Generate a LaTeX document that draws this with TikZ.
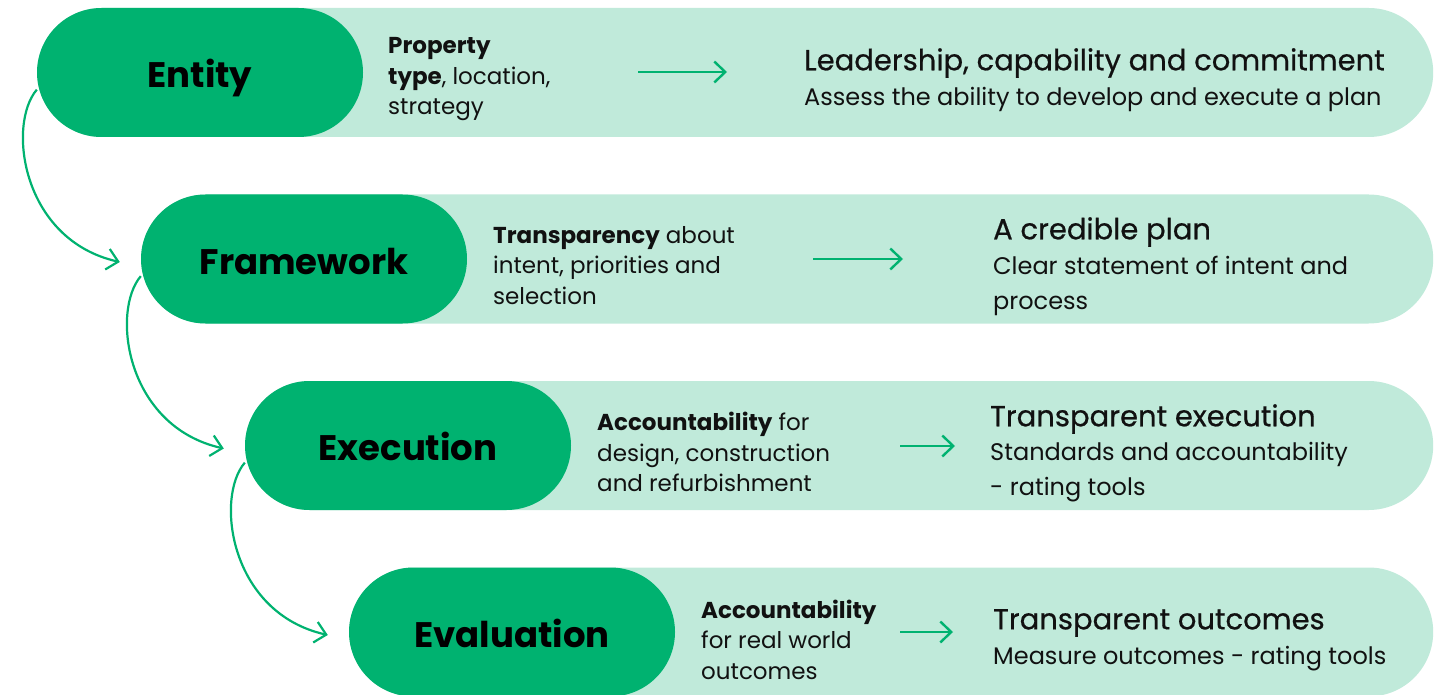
\documentclass[tikz,border=0pt]{standalone}
\usepackage{fontspec}
\setmainfont{Poppins}
\newfontfamily\medfont{Poppins}[FakeBold=0.6]
\usetikzlibrary{arrows.meta}
\definecolor{pillgreen}{RGB}{0,178,112}
\definecolor{bandgreen}{RGB}{192,234,218}
\definecolor{ink}{RGB}{17,17,17}
\tikzset{
  band/.style={fill=bandgreen, rounded corners=64.5pt, minimum height=129pt, inner sep=0pt, anchor=west},
  pill/.style={fill=pillgreen, rounded corners=64.5pt, minimum width=326pt, minimum height=129pt, inner sep=0pt, font=\fontsize{35.5}{40}\selectfont\bfseries, text=black, text depth=0pt, text height=30pt},
  midtext/.style={anchor=west, align=left, inner sep=0pt, text=ink, font=\fontsize{23}{30.5}\selectfont},
  headtext/.style={anchor=west, align=left, inner sep=0pt, text=ink, font=\fontsize{29}{32}\selectfont\medfont},
  subtext/.style={anchor=west, align=left, inner sep=0pt, text=ink, font=\fontsize{24}{35}\selectfont},
  flow/.style={draw=pillgreen, line width=2.4pt, -{Straight Barb[length=11pt,width=21pt,line width=2.4pt]}},
  conn/.style={draw=pillgreen, line width=2.2pt, -{Straight Barb[length=11pt,width=21pt,line width=2.2pt]}}
}
\begin{document}
\begin{tikzpicture}[x=1pt,y=-1pt]
\useasboundingbox (0,0) rectangle (1449,695);
% row 1
\node[band, minimum width=1396pt] (b1) at (37,72.5) {};
\node[pill] (p1) at (200,72.5) {Entity};
\node[midtext] (m1) at (388,79.5) {\textbf{Property}\\\textbf{type}, location,\\strategy};
\coordinate (a1s) at (638,72);
\coordinate (a1e) at (727,72);
\draw[flow] (a1s) -- (a1e);
\node[headtext] (h1) at (804,63) {Leadership, capability and commitment};
\node[subtext] (s1) at (804,99.5) {Assess the ability to develop and execute a plan};
% row 2
\node[band, minimum width=1292pt] (b2) at (141,259) {};
\node[pill] (p2) at (304,259) {Framework};
\node[midtext] (m2) at (493,265.5) {\textbf{Transparency} about\\intent, priorities and\\selection};
\coordinate (a2s) at (813,259);
\coordinate (a2e) at (903,259);
\draw[flow] (a2s) -- (a2e);
\node[headtext] (h2) at (993,232) {A credible plan};
\node[subtext] (s2) at (993,286) {Clear statement of intent and\\process};
% row 3
\node[band, minimum width=1188pt] (b3) at (245,445.5) {};
\node[pill] (p3) at (408,445.5) {Execution};
\node[midtext] (m3) at (597,452) {\textbf{Accountability} for\\design, construction\\and refurbishment};
\coordinate (a3s) at (900,446);
\coordinate (a3e) at (955,446);
\draw[flow] (a3s) -- (a3e);
\node[headtext] (h3) at (990,419) {Transparent execution};
\node[subtext] (s3) at (990,472.5) {Standards and accountability\\- rating tools};
% row 4
\node[band, minimum width=1084pt] (b4) at (349,632) {};
\node[pill] (p4) at (512,632) {Evaluation};
\node[midtext] (m4) at (701,639.5) {\textbf{Accountability}\\for real world\\outcomes};
\coordinate (a4s) at (900,632);
\coordinate (a4e) at (953,632);
\draw[flow] (a4s) -- (a4e);
\node[headtext] (h4) at (993,623) {Transparent outcomes};
\node[subtext] (s4) at (993,658.5) {Measure outcomes - rating tools};
% connectors
\draw[conn] (p1.186) .. controls +(-30,35) and +(-98,-22) .. ([xshift=-21pt,yshift=-3pt]p2.west);
\draw[conn] (p2.186) .. controls +(-30,35) and +(-98,-22) .. ([xshift=-21pt,yshift=-3pt]p3.west);
\draw[conn] (p3.186) .. controls +(-30,35) and +(-98,-22) .. ([xshift=-21pt,yshift=-3pt]p4.west);
\end{tikzpicture}
\end{document}
